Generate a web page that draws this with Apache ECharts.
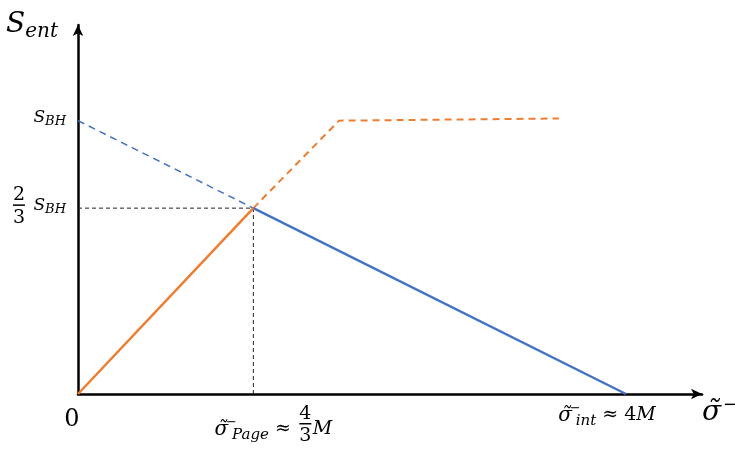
<!DOCTYPE html>
<html>
<head>
<meta charset="utf-8">
<script src="https://cdn.jsdelivr.net/npm/echarts@6/dist/echarts.min.js"></script>
<style>
  html, body { margin: 0; padding: 0; background: #fff; }
  #chart { width: 735px; height: 452px; }
</style>
</head>
<body>
<div id="chart"></div>
<script>
// 数据 (x 单位: M, y 单位: S_BH)
var xPage = 1.28;
var yPage = 0.68;
var blueDashed = [[0, 1], [xPage, yPage]];
var blueSolid = [[xPage, yPage], [4, 0]];
var orangeSolid = [[0, 0], [xPage, yPage]];
var orangeDashed = [[xPage, yPage], [1.905, 1.0], [3.51, 1.008]];
var guideH = [[0, yPage], [xPage, yPage]];
var guideV = [[xPage, 0], [xPage, yPage]];

// 刻度
var xTicks = [0, 4];
var xTickLabels = ['{z|0}', '{s|σ̃}{sup|−}{sub|int}{t| ≈ 4}{m|M}{gap|}'];
var pageTicks = [xPage];
var pageLabel = '{lead|}{s|σ̃}{sup|−}{sub|Page}{t| ≈ }{fgap|}{m|M}';
var pageFrac = '{n|4}\n{bar|}\n{d|3}';
var yTicks = [1, yPage];
var yFrac = '{n|2}\n{bar|}\n{d|3}';

var serif = 'DejaVu Serif';
var blue = '#4472C4';
var orange = '#ED7D31';
var xMax = 4.555;

var rich = {
    z: { fontFamily: serif, fontSize: 24, lineHeight: 26, padding: [10, 12, 0, 0], color: '#000' },
    s: { fontFamily: serif, fontStyle: 'italic', fontSize: 20, color: '#000' },
    S: { fontFamily: serif, fontStyle: 'italic', fontSize: 17, color: '#000' },
    sup: { fontFamily: serif, fontSize: 13, width: 1, padding: [0, 0, 14, 3], color: '#000' },
    sub: { fontFamily: serif, fontStyle: 'italic', fontSize: 15, padding: [11, 0, 0, 0], color: '#000' },
    subBH: { fontFamily: serif, fontStyle: 'italic', fontSize: 13, padding: [8, 0, 0, 0], color: '#000' },
    t: { fontFamily: serif, fontSize: 19, color: '#000' },
    m: { fontFamily: serif, fontStyle: 'italic', fontSize: 19, color: '#000' },
    gap: { width: 38 },
    lead: { width: 40 },
    fgap: { width: 16 },
    n: { fontFamily: serif, fontSize: 19, lineHeight: 18, align: 'center', color: '#000' },
    bar: { width: 12, height: 1.5, backgroundColor: '#000', align: 'center' },
    d: { fontFamily: serif, fontSize: 19, lineHeight: 24, align: 'center', color: '#000' }
};

var hiddenAxis = {
    axisLine: { show: false },
    axisTick: { show: false },
    splitLine: { show: false }
};

var myChart = echarts.init(document.getElementById('chart'));

var option = {
    animation: false,
    backgroundColor: '#fff',
    grid: { left: 78, right: 33, top: 25, bottom: 58, outerBoundsMode: 'none', containLabel: false },
    xAxis: [{
        type: 'value',
        min: 0,
        max: xMax,
        name: '{s|σ̃}{sup|−}',
        nameLocation: 'end',
        nameGap: 0,
        nameTextStyle: {
            verticalAlign: 'middle',
            padding: [38, 0, 0, 0],
            rich: {
                s: { fontFamily: serif, fontStyle: 'italic', fontSize: 28, color: '#000' },
                sup: { fontFamily: serif, fontSize: 18, padding: [0, 0, 16, 2], color: '#000' }
            }
        },
        axisLine: { lineStyle: { color: '#000', width: 2.5 }, symbol: ['none', 'arrow'], symbolSize: [8, 11] },
        axisTick: { show: false },
        splitLine: { show: false },
        axisLabel: {
            customValues: xTicks,
            margin: 8,
            formatter: function (v) { return xTickLabels[xTicks.indexOf(v)]; },
            rich: rich
        }
    }, Object.assign({
        type: 'value', min: 0, max: xMax, position: 'bottom',
        axisLabel: {
            customValues: pageTicks,
            margin: 22,
            formatter: function () { return pageLabel; },
            rich: rich
        }
    }, hiddenAxis), Object.assign({
        type: 'value', min: 0, max: xMax, position: 'bottom',
        axisLabel: {
            customValues: pageTicks,
            margin: 11,
            padding: [0, 0, 0, 104],
            formatter: function () { return pageFrac; },
            rich: rich
        }
    }, hiddenAxis)],
    yAxis: [{
        type: 'value',
        min: 0,
        max: 1.35,
        name: '{S|S}{sub|ent}',
        nameLocation: 'end',
        nameGap: 0,
        nameTextStyle: {
            align: 'right',
            verticalAlign: 'middle',
            padding: [0, 20, 0, 0],
            rich: {
                S: { fontFamily: serif, fontStyle: 'italic', fontSize: 28, color: '#000' },
                sub: { fontFamily: serif, fontStyle: 'italic', fontSize: 20, padding: [14, 0, 0, 0], color: '#000' }
            }
        },
        axisLine: { lineStyle: { color: '#000', width: 2.5 }, symbol: ['none', 'arrow'], symbolSize: [8, 11] },
        axisTick: { show: false },
        splitLine: { show: false },
        axisLabel: {
            customValues: yTicks,
            margin: 12,
            padding: [0, 0, 6, 0],
            formatter: function () { return '{S|S}{subBH|BH}'; },
            rich: rich
        }
    }, Object.assign({
        type: 'value', min: 0, max: 1.35, position: 'left',
        axisLabel: {
            customValues: [yPage],
            margin: 53,
            formatter: function () { return yFrac; },
            rich: rich
        }
    }, hiddenAxis)],
    series: [
        { type: 'line', data: guideH, symbol: 'none', lineStyle: { color: '#222', width: 1, type: [4, 3] } },
        { type: 'line', data: guideV, symbol: 'none', lineStyle: { color: '#222', width: 1, type: [4, 3] } },
        { type: 'line', data: blueDashed, symbol: 'none', lineStyle: { color: blue, width: 1.5, type: [7, 5] } },
        { type: 'line', data: orangeDashed, symbol: 'none', lineStyle: { color: orange, width: 2, type: [7, 5] } },
        { type: 'line', data: blueSolid, symbol: 'none', lineStyle: { color: blue, width: 2.5 } },
        { type: 'line', data: orangeSolid, symbol: 'none', lineStyle: { color: orange, width: 2.5 } }
    ]
};

myChart.setOption(option);
</script>
</body>
</html>
